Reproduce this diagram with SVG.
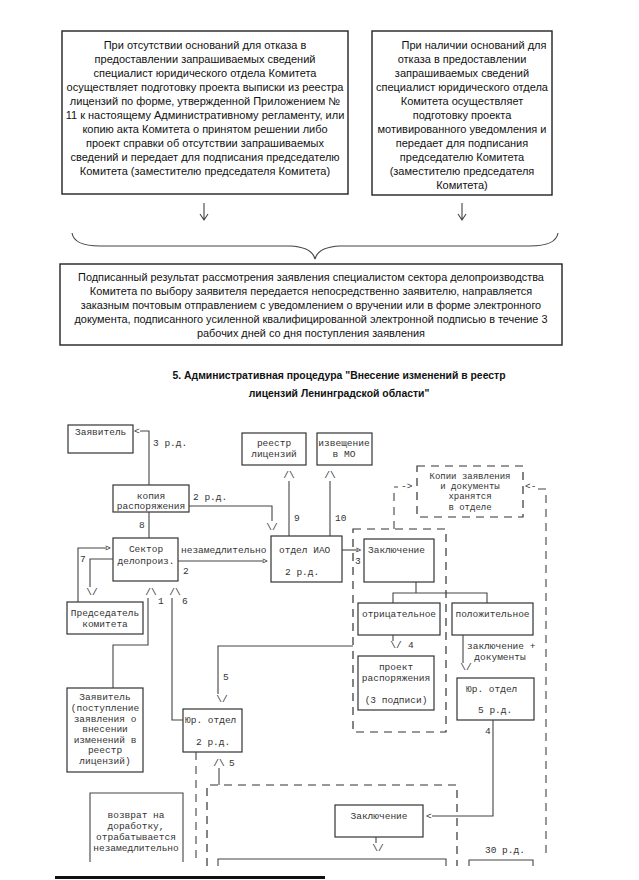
<svg xmlns="http://www.w3.org/2000/svg" width="639" height="880" viewBox="0 0 639 880">
<defs>
<style>
.bg{fill:#fff}
.tb{fill:#fff;stroke:#222;stroke-width:1.4}
.fb{fill:#fff;stroke:#333;stroke-width:1.2}
.db{fill:none;stroke:#333;stroke-width:1.2;stroke-dasharray:8 6}
.ln{fill:none;stroke:#444;stroke-width:1.1}
.dl{fill:none;stroke:#444;stroke-width:1.1;stroke-dasharray:8 6}
.t{font-family:"Liberation Sans",Arial,sans-serif;font-size:11px;fill:#111;text-anchor:middle}
.tr{font-family:"Liberation Sans",Arial,sans-serif;font-size:10.9px;fill:#111;text-anchor:middle}
.h{font-family:"Liberation Sans",Arial,sans-serif;font-size:10.4px;font-weight:bold;fill:#111;text-anchor:middle}
.m{font-family:"Liberation Mono","Courier New",monospace;font-size:9.5px;fill:#333}
.mc{font-family:"Liberation Mono","Courier New",monospace;font-size:9.5px;fill:#333;text-anchor:middle}
.ms{font-family:"Liberation Mono","Courier New",monospace;font-size:9px;fill:#333;text-anchor:middle}
</style>
</defs>
<rect class="bg" x="0" y="0" width="639" height="880"/>

<g id="box-no-grounds">
<rect class="tb" x="62" y="31" width="286" height="163"/>
<text class="t" x="205" y="49">При отсутствии оснований для отказа в</text>
<text class="t" x="205" y="63">предоставлении запрашиваемых сведений</text>
<text class="t" x="205" y="77">специалист юридического отдела Комитета</text>
<text class="t" x="205" y="91">осуществляет подготовку проекта выписки из реестра</text>
<text class="t" x="205" y="105">лицензий по форме, утвержденной Приложением №</text>
<text class="t" x="205" y="119">11 к настоящему Административному регламенту, или</text>
<text class="t" x="205" y="133">копию акта Комитета о принятом решении либо</text>
<text class="t" x="205" y="147">проект справки об отсутствии запрашиваемых</text>
<text class="t" x="205" y="161">сведений и передает для подписания председателю</text>
<text class="t" x="205" y="175">Комитета (заместителю председателя Комитета)</text>
</g>

<g id="box-grounds">
<rect class="tb" x="372" y="31" width="180" height="164"/>
<text class="t" x="474" y="49">При наличии оснований для</text>
<text class="t" x="462" y="63">отказа в предоставлении</text>
<text class="t" x="462" y="77">запрашиваемых сведений</text>
<text class="t" x="462" y="91">специалист юридического отдела</text>
<text class="t" x="462" y="105">Комитета осуществляет</text>
<text class="t" x="462" y="119">подготовку проекта</text>
<text class="t" x="462" y="133">мотивированного уведомления и</text>
<text class="t" x="462" y="147">передает для подписания</text>
<text class="t" x="462" y="161">председателю Комитета</text>
<text class="t" x="462" y="175">(заместителю председателя</text>
<text class="t" x="462" y="189">Комитета)</text>
</g>

<g id="box-result">
<rect class="tb" x="60" y="264" width="502" height="81"/>
<text class="tr" x="311" y="281">Подписанный результат рассмотрения заявления специалистом сектора делопроизводства</text>
<text class="tr" x="311" y="295">Комитета по выбору заявителя передается непосредственно заявителю, направляется</text>
<text class="tr" x="311" y="309">заказным почтовым отправлением с уведомлением о вручении или в форме электронного</text>
<text class="tr" x="311" y="323">документа, подписанного усиленной квалифицированной электронной подписью в течение 3</text>
<text class="tr" x="311" y="337">рабочих дней со дня поступления заявления</text>
</g>

<g id="title">
<text class="h" x="339" y="379">5. Административная процедура "Внесение изменений в реестр</text>
<text class="h" x="339" y="397">лицензий Ленинградской области"</text>
</g>

<g id="n-zayavitel">
<rect class="fb" x="68" y="425" width="65" height="28"/>
<text class="m" x="75" y="435">Заявитель</text>
</g>
<g id="n-kopiya">
<rect class="fb" x="113" y="485" width="76" height="27"/>
<text class="mc" x="151" y="499">копия</text>
<text class="mc" x="151" y="509">распоряжения</text>
</g>
<g id="n-reestr">
<rect class="fb" x="242" y="433" width="64" height="32"/>
<text class="mc" x="274" y="446">реестр</text>
<text class="mc" x="274" y="457">лицензий</text>
</g>
<g id="n-izveshenie">
<rect class="fb" x="317" y="433" width="55" height="32"/>
<text class="mc" x="344" y="446">извещение</text>
<text class="mc" x="344" y="457">в МО</text>
</g>
<g id="n-kopii">
<rect class="db" x="417" y="466" width="106" height="51"/>
<text class="ms" x="470" y="479">Копии заявления</text>
<text class="ms" x="470" y="489.2">и документы</text>
<text class="ms" x="470" y="499.4">хранятся</text>
<text class="ms" x="470" y="509.6">в отделе</text>
</g>
<g id="n-sektor">
<rect class="fb" x="113" y="538" width="65" height="43"/>
<text class="mc" x="146" y="552">Сектор</text>
<text class="mc" x="146" y="564">делопроиз.</text>
</g>
<g id="n-iao">
<rect class="fb" x="271" y="536" width="71" height="46"/>
<text class="m" x="279" y="553">отдел ИАО</text>
<text class="m" x="285" y="575">2 р.д.</text>
</g>
<g id="n-predsedatel">
<rect class="fb" x="67" y="602" width="76" height="32"/>
<text class="mc" x="105" y="616">Председатель</text>
<text class="mc" x="105" y="627">комитета</text>
</g>
<g id="n-group">
<rect class="db" x="353" y="529" width="93" height="203"/>
</g>
<g id="n-zakl1">
<rect class="fb" x="364" y="539" width="70" height="43"/>
<text class="m" x="368" y="553">Заключение</text>
</g>
<g id="n-otr">
<rect class="fb" x="358" y="603" width="82" height="32"/>
<text class="mc" x="399" y="617">отрицательное</text>
</g>
<g id="n-pol">
<rect class="fb" x="452" y="603" width="81" height="32"/>
<text class="mc" x="492.5" y="617">положительное</text>
</g>
<g id="n-proekt">
<rect class="fb" x="358" y="656" width="76" height="54"/>
<text class="mc" x="396" y="670">проект</text>
<text class="mc" x="396" y="681">распоряжения</text>
<text class="mc" x="396" y="703">(3 подписи)</text>
</g>
<g id="n-yur-right">
<rect class="fb" x="457" y="678" width="77" height="42"/>
<text class="m" x="466" y="692">Юр. отдел</text>
<text class="m" x="478" y="713">5 р.д.</text>
</g>
<g id="n-zayavitel2">
<rect class="fb" x="67" y="688" width="76" height="84"/>
<text class="mc" x="105" y="700">Заявитель</text>
<text class="mc" x="105" y="711">(поступление</text>
<text class="mc" x="105" y="721.5">заявления о</text>
<text class="mc" x="105" y="732">внесении</text>
<text class="mc" x="105" y="742.5">изменений в</text>
<text class="mc" x="105" y="753">реестр</text>
<text class="mc" x="105" y="763.5">лицензий)</text>
</g>
<g id="n-yur-left">
<rect class="fb" x="183" y="709" width="59" height="43"/>
<text class="m" x="185" y="723">Юр. отдел</text>
<text class="m" x="196" y="745">2 р.д.</text>
</g>
<g id="n-vozvrat">
<path class="ln" d="M90,862 V793 H183 V862"/>
<text class="mc" x="136" y="818">возврат на</text>
<text class="mc" x="136" y="829">доработку,</text>
<text class="mc" x="136" y="840">отрабатывается</text>
<text class="mc" x="136" y="851">незамедлительно</text>
</g>
<g id="n-zakl2">
<rect class="fb" x="335" y="805" width="88" height="32"/>
<text class="mc" x="379" y="819">Заключение</text>
</g>
<g id="n-bottom-dashed">
<path class="db" d="M207,866 V785 H457 V866"/>
</g>
<g id="n-bottom-boxes">
<path class="ln" d="M218,866 V859 H446 V866"/>
<path class="ln" d="M469,866 V860 H533 V866"/>
<text class="m" x="485" y="853">30 р.д.</text>
</g>

<g id="connectors">
<path class="ln" d="M204,203 V220 M200,214 L204,220 L208,214"/>
<path class="ln" d="M462,203 V220 M458,214 L462,220 L466,214"/>
<path class="ln" d="M72,233 Q74,246 100,246 L290,246 Q312,247 315,259 Q318,247 340,246 L530,246 Q556,246 558,233" stroke-width="1.3"/>

<path class="ln" d="M140,431 H149 V485"/>
<text class="m" x="134" y="434">&lt;</text>
<text class="m" x="153" y="446">3 р.д.</text>
<path class="ln" d="M189,506 H272 V521"/>
<text class="mc" x="272" y="530">\/</text>
<text class="m" x="193" y="500">2 р.д.</text>
<path class="ln" d="M149,512 V538"/>
<text class="m" x="139" y="528">8</text>

<path class="ln" d="M289,481 V536"/>
<text class="mc" x="289" y="478">/\</text>
<text class="m" x="294" y="521">9</text>
<path class="ln" d="M330,481 V536"/>
<text class="mc" x="330" y="478">/\</text>
<text class="m" x="335" y="521">10</text>

<path class="dl" d="M394,529 V487 H398"/>
<text class="m" x="401" y="489">-&gt;</text>
<path class="dl" d="M538,489 H546 V853"/>
<text class="m" x="525" y="489">&lt;-</text>

<path class="ln" d="M178,561 H264"/>
<text class="m" x="262" y="564">&gt;</text>
<text class="m" x="181" y="553">незамедлительно</text>
<text class="m" x="183" y="574">2</text>

<path class="ln" d="M78,602 V548 H107"/>
<text class="m" x="105" y="551">&gt;</text>
<text class="m" x="80" y="562">7</text>
<path class="ln" d="M113,559 H90 V587"/>
<text class="mc" x="92" y="595">\/</text>

<path class="ln" d="M148,598 V645 H113 V688"/>
<text class="mc" x="151" y="595">/\</text>
<text class="m" x="158" y="604">1</text>
<path class="ln" d="M172,598 V720 H183"/>
<text class="mc" x="175" y="595">/\</text>
<text class="m" x="182" y="604">6</text>

<path class="ln" d="M342,550 H358"/>
<text class="m" x="355.5" y="553">&gt;</text>
<text class="m" x="355" y="564">3</text>

<path class="ln" d="M416,582 V593 M393,603 V593 H487 V603"/>
<path class="ln" d="M393,635 V641"/>
<text class="mc" x="396" y="648">\/</text>
<text class="m" x="408" y="648">4</text>
<path class="ln" d="M463,635 V663"/>
<text class="mc" x="466" y="670">\/</text>
<text class="m" x="467" y="649">заключение +</text>
<text class="mc" x="500" y="660">документы</text>

<path class="ln" d="M353,646 H218 V694"/>
<text class="mc" x="222" y="702">\/</text>
<text class="m" x="223" y="680">5</text>

<path class="ln" d="M493,720 V816 H432"/>
<text class="m" x="426" y="819">&lt;</text>
<text class="m" x="485" y="734">4</text>

<path class="ln" d="M376,837 V843"/>
<text class="mc" x="378" y="851">\/</text>

<path class="dl" d="M196,752 V862"/>
<path class="ln" d="M219,768 V785"/>
<text class="mc" x="219" y="766">/\</text>
<text class="m" x="229" y="766">5</text>
</g>

<g id="page-edge">
<path d="M55,877.5 H325" stroke="#111" stroke-width="3"/>
</g>
</svg>
